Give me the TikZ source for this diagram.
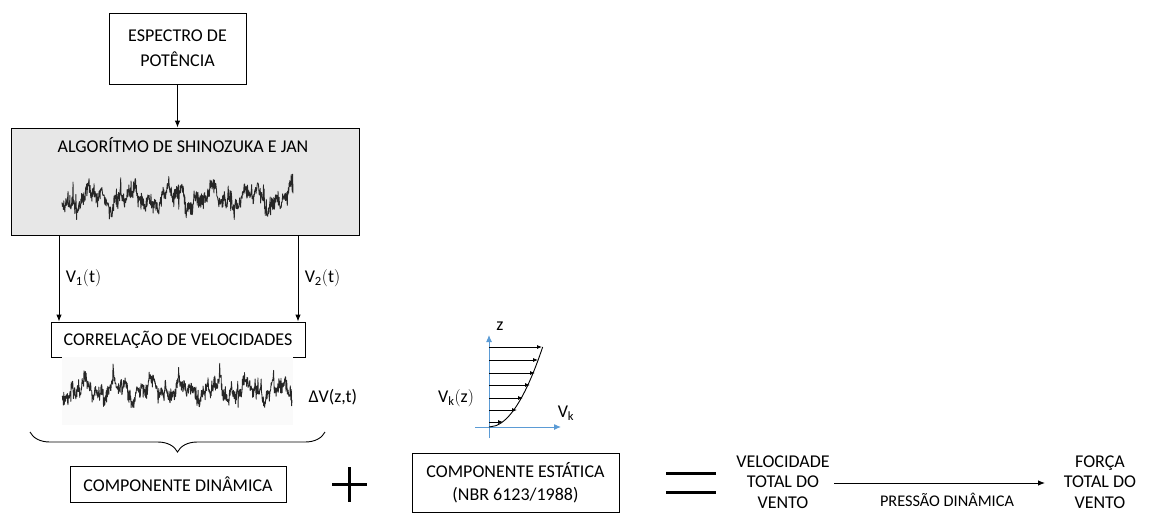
\documentclass[tikz,border=0pt]{standalone}
\usepackage{fontspec}
\setmainfont{Carlito}
\usetikzlibrary{arrows.meta,decorations.pathreplacing,calc}
\definecolor{axisblue}{HTML}{5B9BD5}
\definecolor{boxgray}{HTML}{E7E7E7}
\definecolor{sig}{HTML}{262626}
\begin{document}
\begin{tikzpicture}[x=1pt,y=-1pt,
  font=\fontsize{18}{22}\selectfont,
  box/.style={draw, line width=0.9pt, inner sep=0pt, align=center},
  arr/.style={-{Latex[length=7pt,width=5.5pt]}, line width=0.9pt},
  thin arr/.style={-{Latex[length=5pt,width=4pt]}, line width=0.8pt},
  blue arr/.style={-{Latex[length=7pt,width=6pt]}, line width=1pt, draw=axisblue, fill=axisblue},
  sym/.style={line width=3pt},
  signal/.style={draw=sig, line width=0.85pt, line join=round}]
\useasboundingbox (0,0) rectangle (1152,514);

% boxes
\node[box, minimum width=137pt, minimum height=71pt, font=\fontsize{18}{25}\selectfont] (esp) at (177.5,48.5) {ESPECTRO DE\\POTÊNCIA};
\node[box, fill=boxgray, minimum width=348pt, minimum height=107pt] (alg) at (185,181.5) {};
\node (algt) at (183,145) {ALGORÍTMO DE SHINOZUKA E JAN};
\node[box, minimum width=254pt, minimum height=35pt] (corr) at (178,339.5) {CORRELAÇÃO DE VELOCIDADES};
\node[box, minimum width=216pt, minimum height=36pt] (din) at (178,484) {COMPONENTE DINÂMICA};
\node[box, minimum width=207pt, minimum height=59pt, font=\fontsize{18}{23}\selectfont] (est) at (515.5,482.5) {COMPONENTE ESTÁTICA\\(NBR 6123/1988)};

% signal 1
\pgfmathsetseed{7}
\draw[signal] plot[domain=0:231, samples=650] ({62+\x},{198+7*sin(9*\x)+5*sin(23*\x+40)+3*sin(53*\x)+6*rand+16*rand*rand*rand});
% signal 2 background
\node[fill=gray!4, minimum width=231pt, minimum height=68pt, inner sep=0pt] (bg2) at (177,391) {};
\pgfmathsetseed{19}
\draw[signal] plot[domain=0:230, samples=650] ({62+\x},{390+6*sin(11*\x+20)+5*sin(27*\x)+3*sin(61*\x+10)+6*rand+15*rand*rand*rand});

% arrows
\draw[arr] (esp.south) -- (esp.south |- alg.north);
\coordinate (a1) at (59,235);
\coordinate (a2) at (298,235);
\draw[arr] (a1) -- (a1 |- corr.north) node[pos=0.5, right=3pt] {$\mathrm{V_1(t)}$};
\draw[arr] (a2) -- (a2 |- corr.north) node[pos=0.5, right=3pt] {$\mathrm{V_2(t)}$};

\node[anchor=west] (dv) at (305,397) {ΔV(z,t)};

% brace
\coordinate (b1) at (30,432);
\coordinate (b2) at (325,432);
\draw[line width=0.9pt, decorate, decoration={brace, mirror, amplitude=20pt}] (b1) -- (b2);

% plus
\coordinate (pc) at (349.5,484.5);
\draw[sym] ($(pc)+(-17.5,0)$) -- ($(pc)+(17.5,0)$);
\draw[sym] ($(pc)+(0,-17.5)$) -- ($(pc)+(0,17.5)$);

% equals
\coordinate (e1) at (666,473);
\coordinate (e2) at (716,473);
\coordinate (e3) at (666,492);
\coordinate (e4) at (716,492);
\draw[sym] (e1) -- (e2);
\draw[sym] (e3) -- (e4);

% velocity / force
\node[align=center, font=\fontsize{18}{20.5}\selectfont] (vel) at (783,482) {VELOCIDADE\\TOTAL DO\\VENTO};
\node[align=center, font=\fontsize{18}{20.5}\selectfont] (for) at (1100,482) {FORÇA\\TOTAL DO\\VENTO};
\coordinate (p1) at (834,483);
\coordinate (p2) at (1045,483);
\draw[arr] (p1) -- (p2);
\node[font=\fontsize{16.3}{19}\selectfont] (pd) at (947,500) {PRESSÃO DINÂMICA};

% profile
\coordinate (o) at (489,427);
\coordinate (zb) at (489,438);
\coordinate (zt) at (489,335);
\coordinate (vb) at (475,427);
\coordinate (vt) at (561,427);
\draw[blue arr] (zb) -- (zt);
\draw[blue arr] (vb) -- (vt);
\node (zl) at (500,326) {z};
\node (vk) at (566,413) {$\mathrm{V_k}$};
\node (vkz) at (456,398) {$\mathrm{V_k(z)}$};
\draw[line width=0.9pt] plot[domain=0:80, samples=60, smooth] ({489+6*sqrt(\x)},{427-\x});
\foreach \h/\t in {80/542,67/538,54/535,42/530,29/523,17/517,5/503}{
  \draw[thin arr] (489,427-\h) -- (\t,427-\h);
}
\end{tikzpicture}
\end{document}
